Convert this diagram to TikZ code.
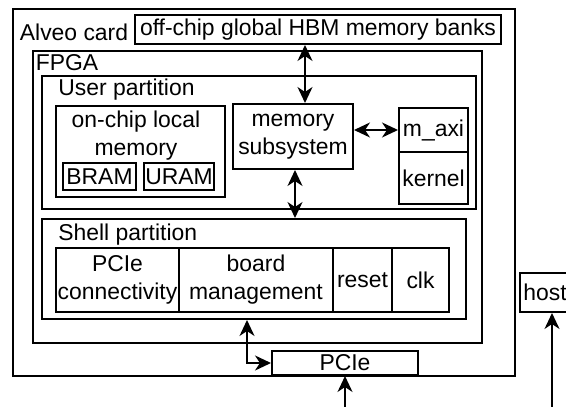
\documentclass[tikz,border=0pt]{standalone}
\usepackage{fontspec}
\setmainfont{Liberation Sans}
\usetikzlibrary{fit,arrows.meta}
\begin{document}
\begin{tikzpicture}[x=0.5pt,y=-0.5pt,
  every node/.style={font=\fontsize{11.45}{14}\selectfont, inner sep=0pt},
  box/.style={draw, line width=1pt, inner sep=0pt, align=center},
  lbl/.style={anchor=west},
  tip/.tip={Stealth[length=8pt,width=7.5pt,inset=2.5pt]},
  arr/.style={line width=1pt, tip-tip},
  arrone/.style={line width=1pt, -tip}]
\clip (0,0) rectangle (566,406);
\useasboundingbox (0,0) rectangle (566,406);
% containers
\node[box, fit={(13,9) (515,376)}] (alveo) {};
\node[box, fit={(33,51) (482,343)}] (fpga) {};
\node[box, fit={(42,76) (476,209)}] (user) {};
\node[box, fit={(42,219) (466,319)}] (shell) {};
\node[lbl] (alveoL) at (19.5,32) {Alveo card};
\node[lbl] (fpgaL) at (35.5,63) {FPGA};
\node[lbl] (userL) at (58,90) {User partition};
\node[lbl] (shellL) at (58,235) {Shell partition};
% HBM
\node[box, fit={(135,15) (501,44)}] (hbm) {};
\node (hbmL) at (hbm.center) {off-chip global HBM memory banks};
% user partition contents
\node[box, fit={(56,106) (225,197)}] (local) {};
\node[align=center] (localL) at (136,136) {on-chip local\\memory};
\node[box, fit={(63,163) (136,190)}] (bram) {};
\node (bramL) at (bram.center) {BRAM};
\node[box, fit={(144,163) (214,190)}] (uram) {};
\node (uramL) at (uram.center) {URAM};
\node[box, fit={(233,104) (353,169)}] (ms) {};
\node[align=center] (msL) at (ms.center) {memory\\subsystem};
\node[box, fit={(399,108) (468,152)}] (maxi) {};
\node (maxiL) at (maxi.center) {m\_axi};
\node[box, fit={(399,152) (468,204)}] (kernel) {};
\node (kernelL) at (kernel.center) {kernel};
% shell contents
\node[box, fit={(56,248) (179,312)}] (pciec) {};
\node[align=center] (pciecL) at (pciec.center) {PCIe\\connectivity};
\node[box, fit={(179,248) (333,312)}] (bm) {};
\node[align=center] (bmL) at (bm.center) {board\\management};
\node[box, fit={(333,248) (392,312)}] (reset) {};
\node (resetL) at (reset.center) {reset};
\node[box, fit={(392,248) (449,312)}] (clk) {};
\node (clkL) at (clk.center) {clk};
% PCIe and host
\node[box, fill=white, fit={(272,351) (418,375)}] (pcie) {};
\node (pcieL) at (pcie.center) {PCIe};
\node[box, fit={(520,273) (570,312)}] (host) {};
\node (hostL) at (host.center) {host};
% helper coordinates
\coordinate (ax) at (305,0);
\coordinate (bx) at (295,0);
\coordinate (cx) at (247,0);
\coordinate (b1) at (345,410);
\coordinate (b2) at (552,410);
% connectors
\draw[arr] (hbm.south -| ax) -- (ms.north -| ax);
\draw[arr] (ms.east |- maxi.west) -- (maxi.west);
\draw[arr] (ms.south -| bx) -- (shell.north -| bx);
\draw[arr] (shell.south -| cx) |- (pcie.west);
\draw[arrone] (b1) -- (pcie.south -| b1);
\draw[arrone] (b2) -- (host.south -| b2);
\end{tikzpicture}
\end{document}
